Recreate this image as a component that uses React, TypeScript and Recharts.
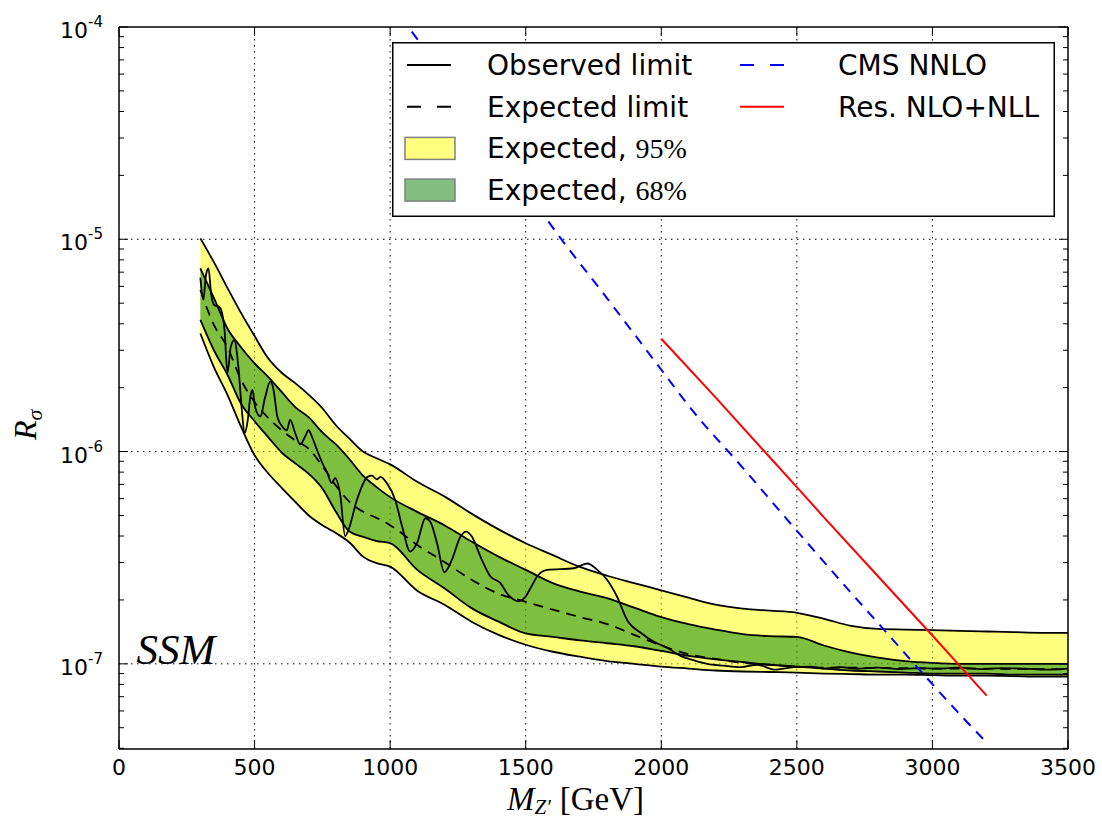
import React from 'react';
import { ComposedChart, Area, Line, XAxis, YAxis, CartesianGrid, Legend, ReferenceDot } from 'recharts';

const SANS = '"DejaVu Sans", sans-serif';
const SERIF = '"Liberation Serif", "DejaVu Serif", serif';

// mass points where the expected limit and its bands are given (GeV)
const MASS_BAND = [300, 350, 400, 450, 500, 550, 600, 650, 700, 750, 800, 850, 900, 950, 1000, 1100, 1200, 1300, 1400, 1500, 1600, 1700, 1800, 1900, 2000, 2100, 2200, 2300, 2400, 2500, 2600, 2700, 2800, 2900, 3000, 3100, 3200, 3300, 3400, 3500];
const Y95_HI = [1.01e-5, 7.8e-6, 5.9e-6, 4.5e-6, 3.5e-6, 2.75e-6, 2.35e-6, 2.1e-6, 1.85e-6, 1.6e-6, 1.33e-6, 1.15e-6, 1.0e-6, 9.3e-7, 8.7e-7, 7.2e-7, 6.15e-7, 5.1e-7, 4.3e-7, 3.7e-7, 3.25e-7, 2.86e-7, 2.6e-7, 2.4e-7, 2.22e-7, 2.05e-7, 1.9e-7, 1.82e-7, 1.78e-7, 1.74e-7, 1.63e-7, 1.51e-7, 1.46e-7, 1.45e-7, 1.44e-7, 1.43e-7, 1.42e-7, 1.41e-7, 1.4e-7, 1.4e-7];
const G68_HI = [7.3e-6, 5.3e-6, 3.8e-6, 3.1e-6, 2.6e-6, 2.25e-6, 1.91e-6, 1.62e-6, 1.45e-6, 1.23e-6, 1.08e-6, 9.2e-7, 7.7e-7, 6.8e-7, 6.1e-7, 5.2e-7, 4.5e-7, 3.77e-7, 3.2e-7, 2.77e-7, 2.4e-7, 2.19e-7, 2.04e-7, 1.84e-7, 1.66e-7, 1.54e-7, 1.45e-7, 1.38e-7, 1.35e-7, 1.34e-7, 1.22e-7, 1.13e-7, 1.07e-7, 1.03e-7, 1.01e-7, 1.0e-7, 1.0e-7, 1.0e-7, 1.0e-7, 1.0e-7];
const EXPECTED = [5.77e-6, 3.95e-6, 3.1e-6, 2.18e-6, 1.71e-6, 1.44e-6, 1.26e-6, 1.13e-6, 1.03e-6, 8.55e-7, 6.9e-7, 5.8e-7, 5.2e-7, 4.87e-7, 4.5e-7, 3.63e-7, 3.02e-7, 2.49e-7, 2.14e-7, 1.96e-7, 1.8e-7, 1.66e-7, 1.54e-7, 1.37e-7, 1.22e-7, 1.11e-7, 1.055e-7, 1.01e-7, 9.9e-8, 9.7e-8, 9.6e-8, 9.6e-8, 9.55e-8, 9.55e-8, 9.5e-8, 9.5e-8, 9.5e-8, 9.45e-8, 9.45e-8, 9.4e-8];
const G68_LO = [4.17e-6, 3.0e-6, 2.3e-6, 1.68e-6, 1.39e-6, 1.17e-6, 9.9e-7, 8.8e-7, 7.85e-7, 6.7e-7, 5.2e-7, 4.2e-7, 3.97e-7, 3.79e-7, 3.7e-7, 2.77e-7, 2.27e-7, 1.83e-7, 1.58e-7, 1.39e-7, 1.34e-7, 1.29e-7, 1.25e-7, 1.21e-7, 1.15e-7, 1.09e-7, 1.05e-7, 1.02e-7, 9.9e-8, 9.7e-8, 9.5e-8, 9.3e-8, 9.2e-8, 9.1e-8, 9.0e-8, 9.0e-8, 9.0e-8, 8.9e-8, 8.9e-8, 8.9e-8];
const Y95_LO = [3.6e-6, 2.5e-6, 1.85e-6, 1.31e-6, 9.6e-7, 7.9e-7, 6.75e-7, 5.8e-7, 5.0e-7, 4.5e-7, 4.13e-7, 3.73e-7, 3.2e-7, 2.98e-7, 2.87e-7, 2.21e-7, 1.9e-7, 1.58e-7, 1.37e-7, 1.23e-7, 1.14e-7, 1.08e-7, 1.03e-7, 1.0e-7, 9.7e-8, 9.5e-8, 9.3e-8, 9.2e-8, 9.15e-8, 9.1e-8, 9.0e-8, 8.95e-8, 8.9e-8, 8.9e-8, 8.85e-8, 8.8e-8, 8.8e-8, 8.75e-8, 8.7e-8, 8.7e-8];

// observed limit
const MASS_OBS = [300, 311, 321, 330, 340, 351, 370, 380, 389, 400, 412, 425, 441, 453, 463, 475, 484, 492, 502, 521, 539, 558, 570, 584, 601, 619, 631, 650, 668, 687, 699, 711, 730, 754, 767, 785, 797, 816, 834, 847, 877, 917, 933, 951, 964, 988, 1019, 1044, 1074, 1099, 1130, 1148, 1173, 1200, 1228, 1259, 1280, 1302, 1333, 1370, 1407, 1431, 1474, 1499, 1520, 1542, 1579, 1677, 1727, 1764, 1800, 1837, 1874, 1924, 1973, 2022, 2071, 2120, 2170, 2230, 2293, 2355, 2416, 2489, 2550, 2600, 2662, 2720, 2800, 2880, 2950, 3020, 3100, 3180, 3260, 3340, 3420, 3500];
const R_OBS = [6.6e-6, 5.2e-6, 6.8e-6, 7.3e-6, 5.5e-6, 4.9e-6, 4.8e-6, 4.5e-6, 3.75e-6, 2.35e-6, 3.1e-6, 3.35e-6, 2.45e-6, 1.57e-6, 1.22e-6, 1.41e-6, 1.8e-6, 1.95e-6, 1.62e-6, 1.46e-6, 1.8e-6, 2.14e-6, 1.95e-6, 1.46e-6, 1.32e-6, 1.26e-6, 1.41e-6, 1.22e-6, 1.08e-6, 1.18e-6, 1.26e-6, 1.18e-6, 1.02e-6, 8.6e-7, 8.0e-7, 7.1e-7, 7.5e-7, 6.25e-7, 4.0e-7, 4.3e-7, 5.9e-7, 7.6e-7, 7.7e-7, 7.4e-7, 7.6e-7, 7.1e-7, 5.9e-7, 4.45e-7, 3.38e-7, 3.7e-7, 4.85e-7, 4.67e-7, 3.7e-7, 2.7e-7, 3.1e-7, 3.97e-7, 4.2e-7, 3.97e-7, 3.2e-7, 2.58e-7, 2.4e-7, 2.15e-7, 1.97e-7, 2.07e-7, 2.3e-7, 2.58e-7, 2.77e-7, 2.82e-7, 2.97e-7, 2.77e-7, 2.49e-7, 2.07e-7, 1.61e-7, 1.4e-7, 1.27e-7, 1.19e-7, 1.09e-7, 1.04e-7, 1.0e-7, 9.8e-8, 9.65e-8, 9.9e-8, 9.4e-8, 9.65e-8, 9.7e-8, 9.5e-8, 9.65e-8, 9.5e-8, 9.6e-8, 9.45e-8, 9.55e-8, 9.5e-8, 9.6e-8, 9.45e-8, 9.55e-8, 9.5e-8, 9.4e-8, 9.5e-8];

// theory curves
const MASS_CMS = [1000, 1067, 1200, 1400, 1584, 1800, 2000, 2108, 2300, 2465, 2700, 2821, 2945, 3117, 3200];
const R_CMS = [1.3e-4, 1.0e-4, 5.9e-5, 2.7e-5, 1.21e-5, 5.27e-6, 2.43e-6, 1.6e-6, 8.4e-7, 4.77e-7, 2.16e-7, 1.45e-7, 9.6e-8, 5.5e-8, 4.26e-8];
const MASS_RES = [2000, 2200, 2400, 2500, 2600, 2800, 3000, 3100, 3200];
const R_RES = [3.4e-6, 1.8e-6, 9.4e-7, 6.8e-7, 4.9e-7, 2.58e-7, 1.36e-7, 9.8e-8, 7.08e-8];

const X_TICKS = [0, 500, 1000, 1500, 2000, 2500, 3000, 3500];
const X_GRID = [500, 1000, 1500, 2000, 2500, 3000];
const Y_MAJOR = [1e-7, 1e-6, 1e-5, 1e-4];
const Y_MINOR = [4e-8, 5e-8, 6e-8, 7e-8, 8e-8, 9e-8, 2e-7, 3e-7, 4e-7, 5e-7, 6e-7, 7e-7, 8e-7, 9e-7, 2e-6, 3e-6, 4e-6, 5e-6, 6e-6, 7e-6, 8e-6, 9e-6, 2e-5, 3e-5, 4e-5, 5e-5, 6e-5, 7e-5, 8e-5, 9e-5];
const Y_GRID = [1e-7, 1e-6, 1e-5];
const Y_DOMAIN = [3.97e-8, 1e-4];

const bandData = MASS_BAND.map((m, i) => ({
  m,
  y95: [Y95_LO[i], Y95_HI[i]],
  g68: [G68_LO[i], G68_HI[i]],
  exp: EXPECTED[i],
}));
const obsData = MASS_OBS.map((m, i) => ({ m, v: R_OBS[i] }));
const cmsData = MASS_CMS.map((m, i) => ({ m, v: R_CMS[i] }));
const resData = MASS_RES.map((m, i) => ({ m, v: R_RES[i] }));

const isMajor = (v: number) => Y_MAJOR.some((t) => Math.abs(t - v) / t < 1e-6);

const LeftTick = (props: any) => {
  const { x, y, payload } = props;
  const major = isMajor(payload.value);
  const exp = Math.round(Math.log10(payload.value));
  return (
    <g>
      <line x1={x} x2={x + (major ? 9 : 5)} y1={y} y2={y} stroke="#000" strokeWidth={1} />
      {major && (
        <text x={x - 16} y={y + 11} textAnchor="end" fontSize={22} fontFamily={SANS} fill="#000">
          10<tspan dy={-11} fontSize={15}>{String(exp)}</tspan>
        </text>
      )}
    </g>
  );
};

const RightTick = (props: any) => {
  const { x, y, payload } = props;
  const major = isMajor(payload.value);
  return <line x1={x} x2={x - (major ? 9 : 5)} y1={y} y2={y} stroke="#000" strokeWidth={1} />;
};

const BottomTick = (props: any) => {
  const { x, y, payload } = props;
  return (
    <g>
      <line x1={x} x2={x} y1={y} y2={y - 9} stroke="#000" strokeWidth={1} />
      <text x={x} y={y + 26} textAnchor="middle" fontSize={22} fontFamily={SANS} fill="#000">
        {payload.value}
      </text>
    </g>
  );
};

const TopTick = (props: any) => {
  const { x, y } = props;
  return <line x1={x} x2={x} y1={y} y2={y + 9} stroke="#000" strokeWidth={1} />;
};

const renderXLabel = () => (
  <text x={507} y={810} fontSize={33} fontFamily={SERIF} fill="#000">
    <tspan fontStyle="italic">M</tspan>
    <tspan fontStyle="italic" fontSize={21} dy={4}>Z′</tspan>
    <tspan dx={9} dy={-4}>[GeV]</tspan>
  </text>
);

const renderYLabel = () => (
  <text transform="translate(36, 440) rotate(-90)" fontSize={32} fontFamily={SERIF} fontStyle="italic" fill="#000">
    R<tspan fontSize={22} dy={6}>σ</tspan>
  </text>
);

const renderSSM = (props: any) => {
  const { viewBox } = props;
  return (
    <text x={viewBox.x + 1} y={viewBox.y + 1} fontSize={43} fontFamily={SERIF} fontStyle="italic" fill="#000">
      SSM
    </text>
  );
};

const LEGEND_ROWS = [
  { col: 0, row: 0, kind: 'line', color: '#000', dash: undefined, label: 'Observed limit' },
  { col: 0, row: 1, kind: 'line', color: '#000', dash: '14 16', label: 'Expected limit' },
  { col: 0, row: 2, kind: 'patch', color: '#ffff80', dash: undefined, label: 'Expected, ', math: '95%' },
  { col: 0, row: 3, kind: 'patch', color: '#80bf80', dash: undefined, label: 'Expected, ', math: '68%' },
  { col: 1, row: 0, kind: 'line', color: '#0000ff', dash: '14 16', label: 'CMS NNLO' },
  { col: 1, row: 1, kind: 'line', color: '#ff0000', dash: undefined, label: 'Res. NLO+NLL' },
];

const LegendBox = () => (
  <svg width={663} height={175} style={{ display: 'block' }}>
    <rect x={0.75} y={0.75} width={661.5} height={173.5} fill="#fff" stroke="#000" strokeWidth={1.5} />
    {LEGEND_ROWS.map((r, i) => {
      const cy = 23 + r.row * 41.7;
      const hx = r.col === 0 ? 13 : 346;
      const tx = r.col === 0 ? 95 : 446;
      return (
        <g key={i}>
          {r.kind === 'line' ? (
            <line x1={hx + 2} x2={hx + 46} y1={cy} y2={cy} stroke={r.color} strokeWidth={2} strokeDasharray={r.dash} />
          ) : (
            <rect x={hx} y={cy - 11} width={50} height={22} fill={r.color} stroke="#808080" strokeWidth={1.5} />
          )}
          <text x={tx} y={cy + 10} fontSize={28} fontFamily={SANS} fill="#000">
            {r.label}
            {r.math && <tspan fontFamily={SERIF}>{r.math}</tspan>}
          </text>
        </g>
      );
    })}
  </svg>
);

export default function App() {
  return (
    <div style={{ position: 'absolute', left: 0, top: 0, width: 1102, height: 819, background: '#fff' }}>
      <ComposedChart width={1102} height={819} margin={{ top: 17, right: 24, bottom: 30, left: 59 }}>
        <CartesianGrid
          xAxisId="b"
          yAxisId="l"
          horizontalValues={Y_GRID}
          verticalValues={X_GRID}
          stroke="#000"
          strokeWidth={1}
          strokeDasharray="1.5 4.5"
        />
        <XAxis
          xAxisId="b"
          dataKey="m"
          type="number"
          domain={[0, 3500]}
          ticks={X_TICKS}
          interval={0}
          allowDataOverflow
          height={40}
          tickSize={0}
          tickMargin={0}
          tickLine={false}
          tick={<BottomTick />}
          axisLine={{ stroke: '#000', strokeWidth: 1.5 }}
          label={renderXLabel}
        />
        <XAxis
          xAxisId="t"
          orientation="top"
          dataKey="m"
          type="number"
          domain={[0, 3500]}
          ticks={X_TICKS}
          interval={0}
          allowDataOverflow
          height={10}
          tickSize={0}
          tickMargin={0}
          tickLine={false}
          tick={<TopTick />}
          axisLine={{ stroke: '#000', strokeWidth: 1.5 }}
        />
        <YAxis
          yAxisId="l"
          scale="log"
          type="number"
          domain={Y_DOMAIN}
          ticks={[...Y_MINOR, ...Y_MAJOR]}
          interval={0}
          allowDataOverflow
          width={60}
          tickSize={0}
          tickMargin={0}
          tickLine={false}
          tick={<LeftTick />}
          axisLine={{ stroke: '#000', strokeWidth: 1.5 }}
          label={renderYLabel}
        />
        <YAxis
          yAxisId="r"
          orientation="right"
          scale="log"
          type="number"
          domain={Y_DOMAIN}
          ticks={[...Y_MINOR, ...Y_MAJOR]}
          interval={0}
          allowDataOverflow
          width={10}
          tickSize={0}
          tickMargin={0}
          tickLine={false}
          tick={<RightTick />}
          axisLine={{ stroke: '#000', strokeWidth: 1.5 }}
        />
        <Area
          data={bandData}
          xAxisId="b"
          yAxisId="l"
          dataKey="y95"
          type="monotone"
          fill="#ffff00"
          fillOpacity={0.5}
          stroke="#000"
          strokeWidth={1.8}
          dot={false}
          activeDot={false}
          isAnimationActive={false}
        />
        <Area
          data={bandData}
          xAxisId="b"
          yAxisId="l"
          dataKey="g68"
          type="monotone"
          fill="#008000"
          fillOpacity={0.5}
          stroke="#000"
          strokeWidth={1.8}
          dot={false}
          activeDot={false}
          isAnimationActive={false}
        />
        <Line
          data={bandData}
          xAxisId="b"
          yAxisId="l"
          dataKey="exp"
          type="monotone"
          stroke="#000"
          strokeWidth={1.8}
          strokeDasharray="10 7"
          dot={false}
          activeDot={false}
          isAnimationActive={false}
        />
        <Line
          data={obsData}
          xAxisId="b"
          yAxisId="l"
          dataKey="v"
          type="monotone"
          stroke="#000"
          strokeWidth={1.8}
          dot={false}
          activeDot={false}
          isAnimationActive={false}
        />
        <Line
          data={cmsData}
          xAxisId="b"
          yAxisId="l"
          dataKey="v"
          type="monotone"
          stroke="#0000ff"
          strokeWidth={2}
          strokeDasharray="10 8"
          dot={false}
          activeDot={false}
          isAnimationActive={false}
        />
        <Line
          data={resData}
          xAxisId="b"
          yAxisId="l"
          dataKey="v"
          type="linear"
          stroke="#ff0000"
          strokeWidth={2}
          dot={false}
          activeDot={false}
          isAnimationActive={false}
        />
        <ReferenceDot
          xAxisId="b"
          yAxisId="l"
          x={65}
          y={1e-7}
          r={1}
          fill="none"
          stroke="none"
          label={renderSSM}
        />
        <Legend
          layout="horizontal"
          verticalAlign="middle"
          align="center"
          content={<LegendBox />}
          wrapperStyle={{ left: 392, top: 42, width: 663, height: 175 }}
        />
      </ComposedChart>
    </div>
  );
}
